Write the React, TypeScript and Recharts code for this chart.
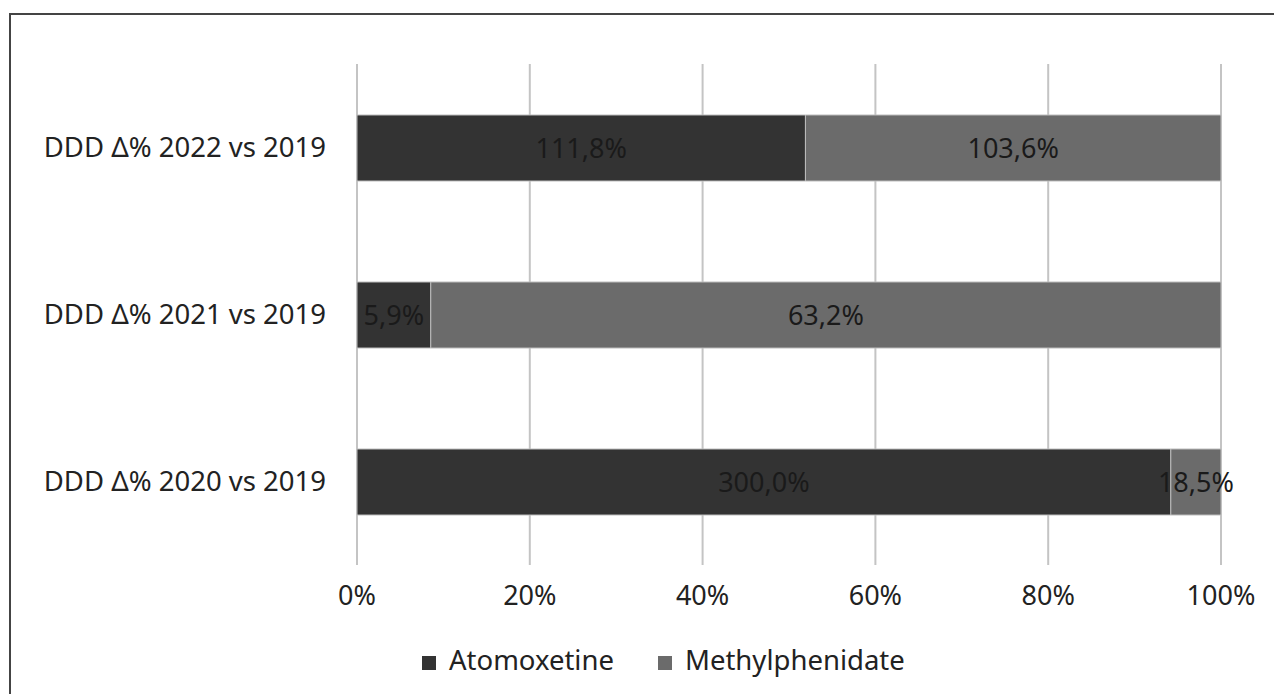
import { BarChart, Bar, XAxis, YAxis, CartesianGrid, Legend, LabelList } from 'recharts';

const categories = ['DDD Δ% 2022 vs 2019', 'DDD Δ% 2021 vs 2019', 'DDD Δ% 2020 vs 2019'];
const atomoxetine = [111.8, 5.9, 300.0];
const methylphenidate = [103.6, 63.2, 18.5];
const xTicks = [0, 0.2, 0.4, 0.6, 0.8, 1];

const data = categories.map((name, i) => ({
  name,
  atomoxetine: atomoxetine[i],
  methylphenidate: methylphenidate[i],
}));

const FONT = '"Noto Sans", sans-serif';
const fmt = (v: any) => `${Number(v).toFixed(1).replace('.', ',')}%`;

export default function App() {
  return (
    <div
      style={{
        position: 'fixed',
        left: 0,
        top: 0,
        width: 1274,
        height: 694,
        overflow: 'hidden',
        background: '#fff',
        fontFamily: FONT,
      }}
    >
      {/* outer frame, runs off the right and bottom edge */}
      <div
        style={{
          position: 'absolute',
          left: 9,
          top: 13,
          width: 1400,
          height: 800,
          border: '2px solid #444',
        }}
      />
      <div style={{ position: 'absolute', left: 0, top: 0 }}>
        <BarChart
          width={1274}
          height={694}
          data={data}
          layout="vertical"
          stackOffset="expand"
          margin={{ top: 64, right: 53, bottom: 14, left: 0 }}
        >
          <CartesianGrid horizontal={false} stroke="#c4c4c4" strokeWidth={2} />
          <XAxis
            type="number"
            domain={[0, 1]}
            ticks={xTicks}
            tickFormatter={(v) => `${Math.round(v * 100)}%`}
            axisLine={false}
            tickLine={false}
            tickSize={0}
            tickMargin={21}
            height={75}
            tick={{ fill: '#222', fontSize: 27, fontFamily: FONT }}
          />
          <YAxis
            type="category"
            dataKey="name"
            width={357}
            axisLine={false}
            tickLine={false}
            tickSize={0}
            tickMargin={31}
            tick={{ fill: '#222', fontSize: 27.5, fontFamily: FONT }}
          />
          <Legend
            verticalAlign="bottom"
            align="left"
            iconType="square"
            iconSize={14}
            height={40}
            wrapperStyle={{ left: 422, fontSize: 27.5, fontFamily: FONT, lineHeight: '40px' }}
            formatter={(value) => (
              <span style={{ color: '#222', marginLeft: 9, marginRight: 34 }}>{value}</span>
            )}
          />
          <Bar
            dataKey="atomoxetine"
            name="Atomoxetine"
            stackId="a"
            fill="#333333"
            stroke="#bdbdbd"
            strokeWidth={1}
            barSize={66}
            isAnimationActive={false}
          >
            <LabelList
              dataKey="atomoxetine"
              position="center"
              formatter={fmt}
              style={{ fill: '#1a1a1a', fontSize: 27, fontFamily: FONT }}
            />
          </Bar>
          <Bar
            dataKey="methylphenidate"
            name="Methylphenidate"
            stackId="a"
            fill="#6b6b6b"
            stroke="#bdbdbd"
            strokeWidth={1}
            barSize={66}
            isAnimationActive={false}
          >
            <LabelList
              dataKey="methylphenidate"
              position="center"
              formatter={fmt}
              style={{ fill: '#1a1a1a', fontSize: 27, fontFamily: FONT }}
            />
          </Bar>
        </BarChart>
      </div>
    </div>
  );
}
